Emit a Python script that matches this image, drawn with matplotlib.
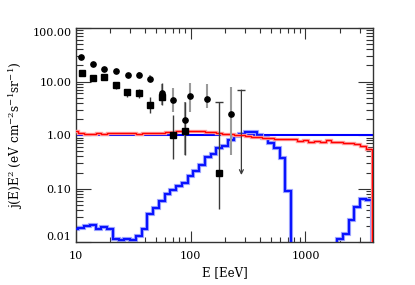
import numpy as np
import matplotlib
matplotlib.use("Agg")
import matplotlib.pyplot as plt
from matplotlib.ticker import NullFormatter, FixedLocator, LogLocator

# measured points (circles) and their error bars
circle_E = [11.2, 14.1, 17.8, 22.5, 28.4, 35.6, 44.1, 56.0, 70.6, 88.7, 98.0, 140.5, 224.0]
circle_j = [28.3, 21.5, 17.3, 15.5, 13.2, 13.4, 11.3, 6.2, 4.5, 1.9, 5.36, 4.7, 2.47]
circle_lo = [26.0, 19.8, 15.9, 14.2, 12.0, 12.1, 9.6, 3.64, 2.73, 0.42, 2.73, 3.24, 0.42]
circle_hi = [30.5, 23.2, 18.8, 16.9, 14.5, 14.8, 13.2, 8.98, 7.48, 4.2, 9.5, 8.98, 8.0]

# squares
square_E = [11.3, 14.1, 17.8, 22.5, 28.2, 35.6, 44.8, 56.0, 70.6, 89.0, 178.5]
square_j = [14.2, 11.6, 12.3, 8.5, 6.3, 6.0, 3.64, 5.1, 0.99, 1.2, 0.2]
square_lo = [13.0, 10.6, 11.2, 7.1, 5.06, 4.85, 2.55, 3.64, 0.356, 0.42, 0.041]
square_hi = [15.5, 12.7, 13.4, 9.9, 7.4, 7.1, 5.06, 9.2, 2.37, 4.2, 4.2]

# upper limit
limit_E = 277.0
limit_top = 6.9
limit_tip = 0.18

# histograms, bins of 0.05 in log10(E) centred at 1.00 ... 3.55
bin_centers = np.round(np.arange(1.0, 3.5501, 0.05), 3)

red_hist = [1.2, 1.1, 1.05, 1.05, 1.08, 1.06, 1.1, 1.08, 1.1, 1.08,
            1.1, 1.07, 1.1, 1.09, 1.1, 1.08, 1.12, 1.15, 1.17, 1.2,
            1.2, 1.17, 1.18, 1.15, 1.14, 1.08, 1.07, 1.06, 1.0, 1.0,
            0.95, 0.93, 0.93, 0.9, 0.87, 0.86, 0.85, 0.85, 0.84, 0.78,
            0.82, 0.75, 0.78, 0.74, 0.8, 0.75, 0.75, 0.72, 0.70, 0.68,
            0.62, 0.56]

blue_hist = [0.0173, 0.0185, 0.0202, 0.0214, 0.018, 0.0193, 0.018, 0.0115, 0.0108, 0.0115,
             0.0108, 0.0133, 0.018, 0.0344, 0.0427, 0.0584, 0.078, 0.094, 0.113, 0.125,
             0.174, 0.215, 0.275, 0.383, 0.441, 0.564, 0.631, 0.807, 0.958, 1.03,
             1.12, 1.12, 1.0, 0.867, 0.71, 0.564, 0.367, 0.09, 0, 0,
             0, 0, 0, 0, 0, 0, 0.0117, 0.0145, 0.0265, 0.0457,
             0.0636, 0.0611]


def main():
    plt.rcParams['font.family'] = 'DejaVu Serif'
    plt.rcParams['mathtext.fontset'] = 'dejavuserif'

    fig = plt.figure(figsize=(4.15, 2.85), dpi=100)
    ax = fig.add_axes([0.182, 0.150, 0.7176, 0.752])
    ax.set_xscale('log')
    ax.set_yscale('log')

    # histogram edges, with one extra empty bin so the lines drop at the right
    edges = 10 ** np.append(bin_centers - 0.025, [bin_centers[-1] + 0.025, bin_centers[-1] + 0.075])
    red = np.append(red_hist, 1e-4)
    blue = np.where(np.array(blue_hist) > 0, blue_hist, 1e-4)
    blue = np.append(blue, 1e-4)

    ax.axhline(1.0, color='#0000ff', lw=1.5, zorder=2)
    ax.stairs(blue, edges, color='#a8aeff', lw=3.0, zorder=2)
    ax.stairs(blue, edges, color='#0a14ff', lw=1.6, zorder=3)
    ax.stairs(red, edges, color='#ffa0a0', lw=2.4, zorder=3)
    ax.stairs(red, edges, color='#ff0000', lw=1.0, zorder=4)

    # error bars
    c_err = [np.array(circle_j) - np.array(circle_lo), np.array(circle_hi) - np.array(circle_j)]
    s_err = [np.array(square_j) - np.array(square_lo), np.array(square_hi) - np.array(square_j)]
    ax.errorbar(circle_E, circle_j, yerr=c_err, fmt='none', ecolor='#9a9a9a', elinewidth=1.5, zorder=5)
    ax.errorbar(square_E, square_j, yerr=s_err, fmt='none', ecolor='#3a3a3a', elinewidth=1.0, zorder=5)
    ax.plot(circle_E, circle_j, 'o', color='black', ms=3.8, zorder=6)
    ax.plot(square_E, square_j, 's', color='black', ms=3.7, zorder=6)
    ax.plot([square_E[-1]], [square_hi[-1]], '_', color='#3a3a3a', ms=6, mew=1.0, zorder=5)

    # upper limit arrow
    ax.annotate('', xy=(limit_E, limit_tip), xytext=(limit_E, limit_top),
                arrowprops=dict(arrowstyle='->', color='#3a3a3a', lw=0.9,
                                shrinkA=0, shrinkB=0, mutation_scale=7))
    ax.plot([limit_E], [limit_top], '_', color='#3a3a3a', ms=6, mew=1.0, zorder=5)

    ax.set_xlim(10, 3890)
    ax.set_ylim(0.01, 100)

    ax.xaxis.set_major_locator(FixedLocator([10, 100, 1000]))
    ax.xaxis.set_minor_locator(LogLocator(base=10, subs=np.arange(2, 10)))
    ax.set_xticklabels(['10', '100', '1000'])
    ax.xaxis.set_minor_formatter(NullFormatter())
    ax.yaxis.set_major_locator(FixedLocator([0.01, 0.1, 1, 10, 100]))
    ax.yaxis.set_minor_locator(LogLocator(base=10, subs=np.arange(2, 10)))
    ylabels = ax.set_yticklabels(['0.01', '0.10', '1.00', '10.00', '100.00'])
    ax.yaxis.set_minor_formatter(NullFormatter())
    ylabels[0].set_va('bottom')
    ylabels[-1].set_va('top')

    ax.tick_params(axis='both', which='both', direction='in', top=True, right=True,
                   labelsize=8, width=0.8, color='#333333')
    ax.tick_params(axis='x', which='major', length=7.7, pad=6)
    ax.tick_params(axis='x', which='minor', length=3.6)
    ax.tick_params(axis='y', which='major', length=10.8, pad=3)
    ax.tick_params(axis='y', which='minor', length=5)
    for s in ax.spines.values():
        s.set_linewidth(1.0)
        s.set_color('#333333')

    ax.set_xlabel('E [EeV]', fontsize=8.5, labelpad=4)
    ax.set_ylabel(r'j(E)E$^2$ (eV cm$^{-2}$s$^{-1}$sr$^{-1}$)', fontsize=8.7, labelpad=5)

    fig.savefig('out.png', dpi=100)


if __name__ == "__main__":
    main()
